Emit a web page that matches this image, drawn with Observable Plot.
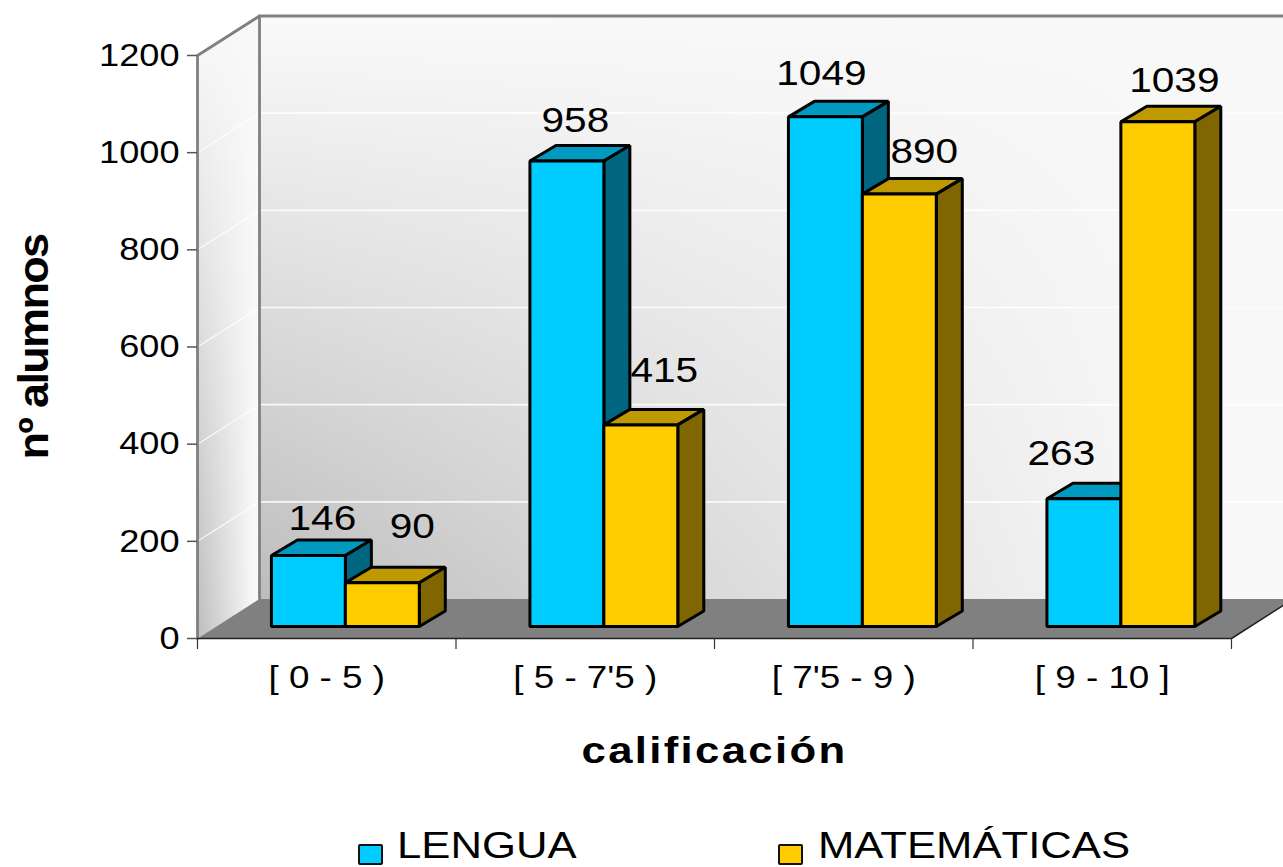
<!DOCTYPE html>
<html lang="es">
<head>
<meta charset="utf-8">
<script src="https://cdn.jsdelivr.net/npm/d3@7"></script>
<script src="https://cdn.jsdelivr.net/npm/@observablehq/plot@0.6"></script>
<style>
html,body{margin:0;padding:0;background:#fff;overflow:hidden}
#wrap{position:relative;width:1283px;height:867px;overflow:hidden}
svg text{font-family:"Liberation Sans",Arial,sans-serif;fill:#000}
#legend{position:absolute;left:0;top:820px;width:1283px;height:47px;font-family:"Liberation Sans",Arial,sans-serif;font-size:37px;line-height:37px;color:#000}
.sw{position:absolute;top:24px;width:21px;height:17px;border:2.6px solid #111;border-radius:2px}
.lb{position:absolute;top:7px;transform:scaleX(1.18);transform-origin:left top;white-space:nowrap}
</style>
</head>
<body>
<div id="wrap"></div>
<script>
const categories = ["[ 0 - 5 )", "[ 5 - 7'5 )", "[ 7'5 - 9 )", "[ 9 - 10 ]"];
const lengua = [146, 958, 1049, 263];
const matematicas = [90, 415, 890, 1039];
const seriesNames = ["LENGUA", "MATEMÁTICAS"];
const yTicks = [0, 200, 400, 600, 800, 1000, 1200];

// hand-placed value labels: shift from the centre/top of each bar, in pixels
const lenguaLabelDx = [14, 8.5, -4, -22.5];
const lenguaLabelDy = [-26, -29, -31.5, -34];
const matLabelDx = [30, 23.5, 25, 16.5];
const matLabelDy = [-45, -43, -31, -30];

const W = 1283, H = 820, mL = 197, mR = 52, mT = 55, mB = 182;
const pxX = (W - mL - mR) / 4, pxY = (H - mT - mB) / 1200;
const ux = px => px / pxX, uy = px => px / pxY;

const wallDX = ux(62), wallDY = uy(39.5);
const barDX = ux(26), barDY = uy(15.5);
const lift = uy(12), pad = 0.286, barW = 0.286;

const poly = (pts, fill, o = {}) => Plot.line(pts.map(([x, y]) => ({x, y})), {
  x: "x", y: "y", curve: "linear-closed", fill, stroke: "none", ...o
});
const edge = {stroke: "#000", strokeWidth: 3, strokeLinejoin: "miter"};

function bar(x0, v, c) {
  const x1 = x0 + barW, b = lift, t = v + lift;
  return [
    poly([[x0, t], [x1, t], [x1 + barDX, t + barDY], [x0 + barDX, t + barDY]], c.top, edge),
    poly([[x1, b], [x1 + barDX, b + barDY], [x1 + barDX, t + barDY], [x1, t]], c.side, edge),
    poly([[x0, b], [x1, b], [x1, t], [x0, t]], c.front, edge)
  ];
}
const blue = {front: "#00CCFF", side: "#00667F", top: "#0099BF"};
const gold = {front: "#FFCC00", side: "#806600", top: "#BF9900"};

const barMarks = categories.flatMap((_, i) => [
  ...bar(i + pad, lengua[i], blue),
  ...bar(i + pad + barW, matematicas[i], gold)
]);

const labels = categories.flatMap((_, i) => [
  {x: i + pad + barW / 2 + ux(lenguaLabelDx[i]), y: lengua[i] + lift - uy(lenguaLabelDy[i]), t: String(lengua[i])},
  {x: i + pad + 1.5 * barW + ux(matLabelDx[i]), y: matematicas[i] + lift - uy(matLabelDy[i]), t: String(matematicas[i])}
]);

const backWall = [[wallDX, wallDY], [4 + wallDX, wallDY], [4 + wallDX, 1200 + wallDY], [wallDX, 1200 + wallDY]];
const sideWall = [[0, 0], [wallDX, wallDY], [wallDX, 1200 + wallDY], [0, 1200]];
const floor = [[0, 0], [4, 0], [4 + wallDX, wallDY], [wallDX, wallDY]];
const grid = yTicks.filter(v => v > 0 && v < 1200);
const gridStyle = {stroke: "#fff", strokeWidth: 1.6, strokeOpacity: 0.85};
const frameStyle = {stroke: "#808080", strokeWidth: 2.8};

const plot = Plot.plot({
  width: W, height: H,
  marginLeft: mL, marginRight: mR, marginTop: mT, marginBottom: mB,
  style: {background: "transparent", overflow: "hidden"},
  x: {domain: [0, 4], axis: null},
  y: {domain: [0, 1200], axis: null},
  marks: [
    poly(sideWall, "url(#vgrad)"),
    poly(sideWall, "url(#sgrad)"),
    poly(backWall, "url(#vgrad)"),
    poly(backWall, "url(#hgrad)"),
    Plot.link(grid, {x1: wallDX, x2: 4 + wallDX, y1: d => d + wallDY, y2: d => d + wallDY, ...gridStyle}),
    Plot.link(grid, {x1: 0, x2: wallDX, y1: d => d, y2: d => d + wallDY, ...gridStyle, strokeWidth: 1.2}),
    poly(floor, "#808080"),
    Plot.line([[wallDX, wallDY], [wallDX, 1200 + wallDY], [4 + wallDX, 1200 + wallDY]], {x: "0", y: "1", ...frameStyle}),
    Plot.line([[0, 0], [0, 1200], [wallDX, 1200 + wallDY]], {x: "0", y: "1", ...frameStyle}),
    Plot.line([[0, 0], [4, 0], [4 + wallDX, wallDY]], {x: "0", y: "1", stroke: "#222", strokeWidth: 1.5}),
    Plot.axisY({ticks: yTicks, tickSize: 10, tickPadding: 8, fontSize: 32, tickFormat: "d", stroke: "#555", strokeWidth: 1.5, label: null}),
    Plot.axisX({ticks: [0, 1, 2, 3, 4], tickSize: 11, tickFormat: () => "", stroke: "#333", strokeWidth: 1.2, label: null}),
    ...barMarks,
    Plot.text(labels, {x: "x", y: "y", text: "t", fontSize: 35, lineAnchor: "bottom", textAnchor: "middle"}),
    Plot.text(categories, {x: (_, i) => i + 0.5, y: () => 0, text: d => d, fontSize: 32, dy: 49, lineAnchor: "bottom", textAnchor: "middle"}),
    Plot.text(["calificación"], {x: () => 2, y: () => 0, text: d => d, fontSize: 37, fontWeight: "bold", dy: 124, lineAnchor: "bottom", textAnchor: "middle"}),
    Plot.text(["nº alumnos"], {x: () => 0, y: () => 600, text: d => d, fontSize: 42, fontWeight: "bold", dx: -150, rotate: -90, lineAnchor: "bottom", textAnchor: "middle"})
  ]
});

const wrap = document.getElementById("wrap");
wrap.appendChild(plot);

// gradients referenced by the wall polygons
const defs = d3.select(plot).insert("defs", ":first-child");
function grad(id, horizontal, stops) {
  const g = defs.append("linearGradient").attr("id", id)
    .attr("x1", 0).attr("y1", 0).attr("x2", horizontal ? 1 : 0).attr("y2", horizontal ? 0 : 1);
  stops.forEach(([o, c, a]) => g.append("stop").attr("offset", o).attr("stop-color", c).attr("stop-opacity", a));
}
grad("vgrad", false, [[0, "#fafafa", 1], [1, "#bdbdbd", 1]]);
grad("hgrad", true, [[0, "#f8f8f8", 0], [0.9, "#f8f8f8", 1], [1, "#f8f8f8", 1]]);
grad("sgrad", true, [[0, "#f8f8f8", 0], [0.9, "#f8f8f8", 1], [1, "#f8f8f8", 1]]);

// the reference text is horizontally stretched
const tickText = new Set(yTicks.map(String));
plot.querySelectorAll("text").forEach(t => {
  const s = t.textContent;
  if (s === "calificación") t.style.letterSpacing = "2px";
  if (s === "nº alumnos") t.style.letterSpacing = "-1.5px";
  const n = t.getComputedTextLength();
  if (!n) return;
  const factor = tickText.has(s) ? 1.13 : categories.includes(s) ? 1.15 : 1.16;
  const target = s === "calificación" ? 266 : s === "nº alumnos" ? 225 : n * factor;
  t.setAttribute("textLength", target);
  t.setAttribute("lengthAdjust", "spacingAndGlyphs");
});

// legend
const legend = d3.select(wrap).append("div").attr("id", "legend");
[[358, 397, blue.front], [778, 818, gold.front]].forEach(([sx, tx, c], i) => {
  legend.append("div").attr("class", "sw").style("left", sx + "px").style("background", c);
  legend.append("div").attr("class", "lb").style("left", tx + "px").text(seriesNames[i]);
});
</script>
</body>
</html>
